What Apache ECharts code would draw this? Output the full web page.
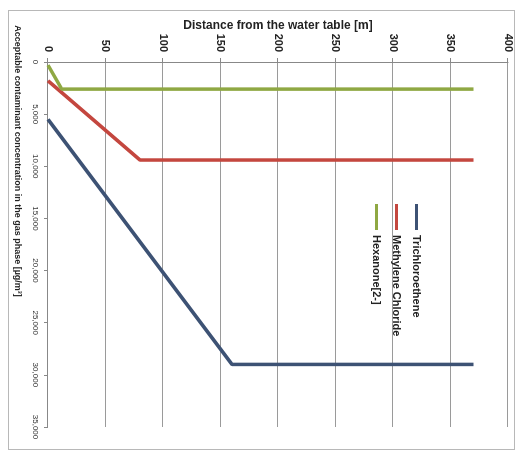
<!DOCTYPE html>
<html>
<head>
<meta charset="utf-8">
<script src="https://cdn.jsdelivr.net/npm/echarts@6/dist/echarts.min.js"></script>
<style>
  html, body { margin: 0; padding: 0; background: #fff; }
  .frame {
    position: absolute; left: 8px; top: 10px;
    width: 507px; height: 440px;
    border: 1px solid #b8b8b8; box-sizing: border-box;
  }
  /* chart is drawn upright and then turned a quarter clockwise, like the source figure */
  #chart {
    position: absolute; left: 0; top: 0;
    width: 455px; height: 516px;
    transform-origin: 0 0;
    transform: translate(516px, 0) rotate(90deg);
  }
</style>
</head>
<body>
<div class="frame"></div>
<div id="chart"></div>
<script>
// distance from the water table [m]
const tceDist = [0, 160, 370]
const mcDist = [0, 80, 370]
const hexDist = [0, 12, 370]
// acceptable concentration in gas phase [ug/m3]
const tceConc = [5500, 29000, 29000]
const mcConc = [1800, 9400, 9400]
const hexConc = [300, 2600, 2600]

const seriesNames = ['Trichloroethene', 'Methylene Chloride', 'Hexanone[2-]']
const seriesColors = ['#3d5274', '#c4473f', '#8fa843']

const font = 'Liberation Sans'

function pairs(dist, conc) {
  return dist.map((d, i) => [conc[i], d])
}

const chart = echarts.init(document.getElementById('chart'))
const lines = [pairs(tceDist, tceConc), pairs(mcDist, mcConc), pairs(hexDist, hexConc)]

chart.setOption({
  animation: false,
  color: seriesColors,
  textStyle: { fontFamily: font },
  grid: { left: 62, right: 28, top: 8, bottom: 48 },
  legend: {
    orient: 'vertical',
    left: 199,
    top: 89,
    itemWidth: 26,
    itemHeight: 3,
    itemGap: 9,
    icon: 'rect',
    data: seriesNames,
    textStyle: { fontSize: 11, fontWeight: 'bold', color: '#222', fontFamily: font }
  },
  xAxis: {
    type: 'value',
    min: 0,
    max: 35000,
    interval: 5000,
    name: 'Acceptable contaminant concentration in the gas phase [µg/m³]',
    nameLocation: 'middle',
    nameGap: 26,
    nameMoveOverlap: false,
    nameTextStyle: {
      fontSize: 9, fontWeight: 'bold', color: '#222', fontFamily: font,
      padding: [0, 167, 0, 0]
    },
    axisLine: { lineStyle: { color: '#888' } },
    axisTick: { length: 4, lineStyle: { color: '#888' } },
    axisLabel: {
      fontSize: 8, color: '#333', margin: 9,
      formatter: v => v.toLocaleString('en-US')
    },
    splitLine: { show: false }
  },
  yAxis: {
    type: 'value',
    min: 0,
    max: 400,
    interval: 50,
    name: 'Distance from the water table [m]',
    nameLocation: 'middle',
    nameRotate: 90,
    nameGap: 30,
    nameMoveOverlap: false,
    nameTextStyle: { fontSize: 12, fontWeight: 'bold', color: '#222', fontFamily: font },
    axisLine: { show: true, lineStyle: { color: '#888' } },
    axisTick: { show: true, length: 4, lineStyle: { color: '#888' } },
    axisLabel: { fontSize: 11, fontWeight: 'bold', color: '#222', margin: 10 },
    splitLine: { lineStyle: { color: '#9a9a9a', width: 1 } }
  },
  series: seriesNames.map((name, i) => ({
    name: name,
    type: 'line',
    data: lines[i],
    showSymbol: false,
    lineStyle: { width: 3.5 }
  }))
})
</script>
</body>
</html>
